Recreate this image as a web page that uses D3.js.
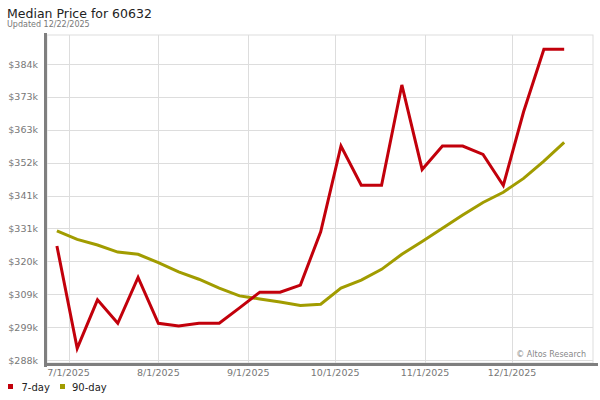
<!DOCTYPE html>
<html lang="en">
<head>
<meta charset="utf-8">
<title>Median Price for 60632</title>
<style>
  body { margin: 0; background: #fff; }
  text { font-family: "DejaVu Sans", Verdana, sans-serif; }
</style>
</head>
<body>
<script src="https://d3js.org/d3.v7.min.js"></script>
<div id="chart"></div>
<script>

// weekly dates (Fridays), 6/27/2025 .. 12/19/2025
var dates = ["2025-06-27","2025-07-04","2025-07-11","2025-07-18","2025-07-25","2025-08-01",
  "2025-08-08","2025-08-15","2025-08-22","2025-08-29","2025-09-05","2025-09-12","2025-09-19",
  "2025-09-26","2025-10-03","2025-10-10","2025-10-17","2025-10-24","2025-10-31","2025-11-07",
  "2025-11-14","2025-11-21","2025-11-28","2025-12-05","2025-12-12","2025-12-19"];

var day7 = [325000, 291800, 307500, 299900, 314800, 299900, 299000, 299900, 299900, 304900,
  310000, 310000, 312300, 329600, 357400, 344700, 344700, 377200, 349800, 357400,
  357400, 354700, 344600, 368500, 388800, 388800];

var day90 = [329900, 327100, 325300, 323000, 322300, 319600, 316600, 314200, 311300, 308800,
  307800, 306800, 305700, 306100, 311300, 313900, 317400, 322300, 326400, 330700,
  335000, 339100, 342400, 346900, 352500, 358600];

var yTicks = [288000, 298667, 309333, 320000, 330667, 341333, 352000, 362667, 373333, 384000];
var xTicks = ["2025-07-01","2025-08-01","2025-09-01","2025-10-01","2025-11-01","2025-12-01"];

var seriesNames = ["7-day", "90-day"];
var seriesColors = ["#c2000b", "#a19c00"];

var width = 600, height = 400;
var plot = {left: 47, right: 593, top: 35, bottom: 363};

var parse = d3.utcParse("%Y-%m-%d");
var fmtDate = d3.utcFormat("%-m/%-d/%Y");

var svg = d3.select("#chart").append("svg")
  .attr("width", width)
  .attr("height", height);

var x = d3.scaleUtc()
  .domain([parse("2025-07-01"), parse("2025-12-01")])
  .range([68.5, 512]);

var y = d3.scaleLinear()
  .domain([288000, 384000])
  .range([360, 64]);

// title
svg.append("text")
  .attr("x", 7).attr("y", 18)
  .attr("font-size", "12.5px")
  .attr("fill", "#222")
  .text("Median Price for 60632");
svg.append("text")
  .attr("x", 7).attr("y", 27)
  .attr("font-size", "8px")
  .attr("fill", "#777")
  .text("Updated 12/22/2025");

// plot background + frame
svg.append("rect")
  .attr("x", plot.left).attr("y", plot.top)
  .attr("width", plot.right - plot.left)
  .attr("height", plot.bottom - plot.top)
  .attr("fill", "#fff")
  .attr("stroke", "#ddd");

// grid
svg.append("g")
  .selectAll("line")
  .data(yTicks)
  .enter().append("line")
    .attr("x1", plot.left).attr("x2", plot.right)
    .attr("y1", function(d){ return Math.round(y(d)) + 0.5; })
    .attr("y2", function(d){ return Math.round(y(d)) + 0.5; })
    .attr("stroke", "#ddd");

svg.append("g")
  .selectAll("line")
  .data(xTicks)
  .enter().append("line")
    .attr("x1", function(d){ return Math.round(x(parse(d))) + 0.5; })
    .attr("x2", function(d){ return Math.round(x(parse(d))) + 0.5; })
    .attr("y1", plot.top).attr("y2", plot.bottom)
    .attr("stroke", "#ddd");

// axis bars
svg.append("rect")
  .attr("x", 44).attr("y", 33)
  .attr("width", 3).attr("height", 334)
  .attr("fill", "#7f7f7f");
svg.append("rect")
  .attr("x", 44).attr("y", 363)
  .attr("width", 554).attr("height", 3)
  .attr("fill", "#7f7f7f");

// tick labels
svg.append("g")
  .selectAll("text")
  .data(yTicks)
  .enter().append("text")
    .attr("x", 38)
    .attr("y", function(d){ return y(d) + 3.5; })
    .attr("text-anchor", "end")
    .attr("font-size", "9.5px")
    .attr("fill", "#777")
    .text(function(d){ return "$" + Math.round(d / 1000) + "k"; });

svg.append("g")
  .selectAll("text")
  .data(xTicks)
  .enter().append("text")
    .attr("x", function(d){ return x(parse(d)); })
    .attr("y", 376)
    .attr("text-anchor", "middle")
    .attr("font-size", "9.5px")
    .attr("fill", "#777")
    .text(function(d){ return fmtDate(parse(d)); });

// lines
var line = d3.line()
  .x(function(d){ return x(parse(d[0])); })
  .y(function(d){ return y(d[1]); });

[day90, day7].forEach(function(vals) {
  var c = vals === day7 ? seriesColors[0] : seriesColors[1];
  svg.append("path")
    .datum(d3.zip(dates, vals))
    .attr("d", line)
    .attr("fill", "none")
    .attr("stroke", c)
    .attr("stroke-width", 3)
    .attr("stroke-linejoin", "miter");
});

// copyright
svg.append("text")
  .attr("x", 586).attr("y", 357)
  .attr("text-anchor", "end")
  .attr("font-size", "8px")
  .attr("fill", "#888")
  .text("\u00a9 Altos Research");

// legend
var leg = svg.append("g")
  .selectAll("g")
  .data(seriesNames)
  .enter().append("g")
    .attr("transform", function(d, i){ return "translate(" + [8, 60][i] + ",384)"; });
leg.append("rect")
  .attr("width", 5).attr("height", 5)
  .attr("fill", function(d, i){ return seriesColors[i]; });
leg.append("text")
  .attr("x", function(d, i){ return [13.5, 12][i]; })
  .attr("y", 6.5)
  .attr("font-size", "10px")
  .attr("fill", "#222")
  .text(function(d){ return d; });

</script>
</body>
</html>
